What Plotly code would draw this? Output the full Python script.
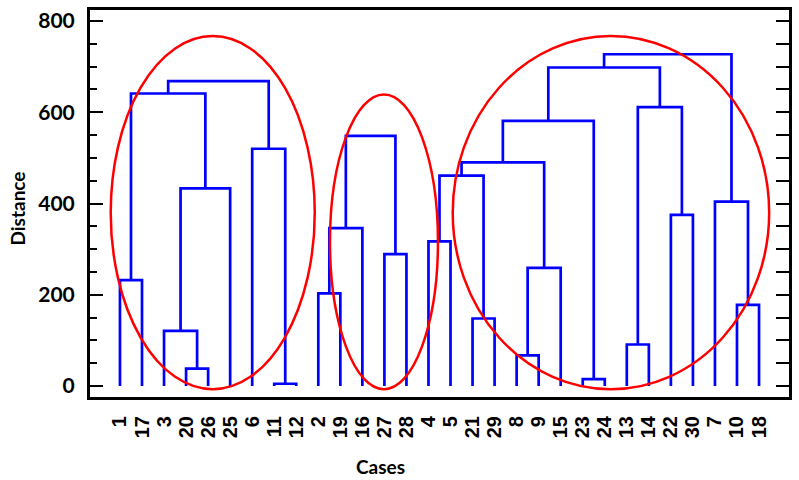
import plotly.graph_objects as go

# Leaf order along the x axis (case numbers)
leaf_order = ["1", "17", "3", "20", "26", "25", "6", "11", "12", "2", "19", "16", "27", "28",
              "4", "5", "21", "29", "8", "9", "15", "23", "24", "13", "14", "22", "30", "7", "10", "18"]

# Merges: (left child, right child, distance); children are case labels or "m<i>"
merge_left = ["1", "20", "3", "m2", "m0", "11", "6", "m4",
              "2", "m8", "27", "m9",
              "4", "21", "m12", "8", "m15", "m14", "23", "m17", "13", "22", "m20", "m19", "10", "7", "m23"]
merge_right = ["17", "26", "m1", "25", "m3", "12", "m5", "m6",
               "19", "16", "28", "m10",
               "5", "29", "m13", "9", "15", "m16", "24", "m18", "14", "30", "m21", "m22", "18", "m24", "m25"]
merge_height = [232, 38, 121, 433, 641, 5, 520, 668,
                203, 346, 289, 548,
                317, 148, 461, 67, 259, 490, 15, 581, 91, 375, 611, 698, 178, 404, 727]

# Cluster ellipses: (x centre, x radius, y centre, y radius) in axis units
ellipse_cx = [5.21, 12.98, 23.28]
ellipse_rx = [4.63, 2.45, 7.18]
ellipse_cy = [380, 316, 380]
ellipse_ry = [387, 323, 387]

pos = {lab: i + 1 for i, lab in enumerate(leaf_order)}
hgt = {lab: 0.0 for lab in leaf_order}

xs, ys = [], []
for i, (a, b, h) in enumerate(zip(merge_left, merge_right, merge_height)):
    xa, xb = pos[a], pos[b]
    ya, yb = hgt[a], hgt[b]
    xs += [xa, xa, xb, xb, None]
    ys += [ya, h, h, yb, None]
    pos[f"m{i}"] = (xa + xb) / 2
    hgt[f"m{i}"] = h

fig = go.Figure()
fig.add_trace(go.Scatter(x=xs, y=ys, mode="lines",
                         line=dict(color="#0000FF", width=2.7),
                         hoverinfo="skip", showlegend=False))
# invisible trace for right-hand axis
fig.add_trace(go.Scatter(x=[1], y=[0], yaxis="y2", mode="markers",
                         marker=dict(opacity=0), showlegend=False, hoverinfo="skip"))

for cx, rx, cy, ry in zip(ellipse_cx, ellipse_rx, ellipse_cy, ellipse_ry):
    fig.add_shape(type="circle", xref="x", yref="y",
                  x0=cx - rx, x1=cx + rx, y0=cy - ry, y1=cy + ry,
                  line=dict(color="#FF0000", width=2.5), layer="above")

yr = [-24, 824]
fig.update_layout(
    width=799, height=480,
    margin=dict(l=90, r=10, t=7, b=83),
    plot_bgcolor="white", paper_bgcolor="white",
    xaxis=dict(range=[-0.36, 31.36], tickvals=list(range(1, 31)), ticktext=leaf_order,
               tickangle=-90, ticks="", showgrid=False, zeroline=False,
               showline=True, mirror=True, linecolor="black", linewidth=3,
               tickfont=dict(family="Liberation Sans", size=20, color="black", weight="bold"),
               ticklabelstandoff=8),
    yaxis=dict(range=yr, tickvals=[0, 200, 400, 600, 800], ticks="inside", ticklen=13,
               tickwidth=2, tickcolor="black", showgrid=False, zeroline=False,
               showline=True, mirror=True, linecolor="black", linewidth=3,
               minor=dict(dtick=50, tick0=0, ticks="inside", ticklen=7, tickwidth=2, tickcolor="black"),
               tickfont=dict(family="Lato", size=21, color="black", weight="bold"),
               ticklabelstandoff=8),
    yaxis2=dict(range=yr, overlaying="y", side="right", tickmode="linear", tick0=0, dtick=50,
                ticks="inside", ticklen=13, tickwidth=2, tickcolor="black",
                showticklabels=False, showgrid=False, zeroline=False, showline=False),
    annotations=[
        dict(text="Distance", xref="paper", yref="paper", x=-0.103, y=0.487,
             textangle=-90, showarrow=False, xanchor="center", yanchor="middle",
             font=dict(family="Lato", size=19, color="black", weight="bold")),
        dict(text="Cases", xref="paper", yref="paper", x=0.415, y=-0.179,
             showarrow=False, xanchor="center", yanchor="middle",
             font=dict(family="Lato", size=19, color="black", weight="bold")),
    ],
)

fig.write_html("out.html")
